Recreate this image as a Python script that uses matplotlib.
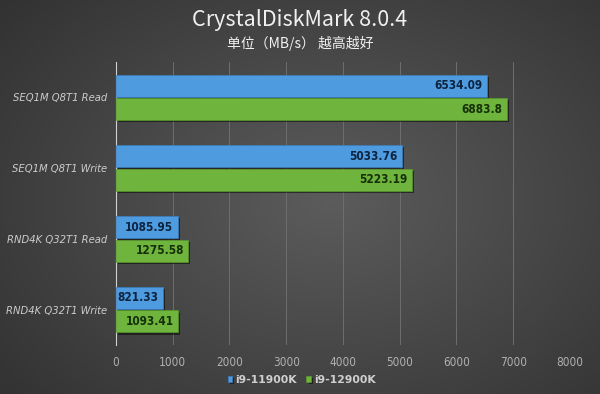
import numpy as np
import matplotlib
matplotlib.use("Agg")
import matplotlib.pyplot as plt
import matplotlib.patheffects as pe

categories = ["SEQ1M Q8T1 Read", "SEQ1M Q8T1 Write", "RND4K Q32T1 Read", "RND4K Q32T1 Write"]
series_names = ["i9-11900K", "i9-12900K"]
i9_11900k = [6534.09, 5033.76, 1085.95, 821.33]
i9_12900k = [6883.8, 5223.19, 1275.58, 1093.41]
xticks = [0, 1000, 2000, 3000, 4000, 5000, 6000, 7000, 8000]

plt.rcParams['font.family'] = ['Noto Sans CJK SC', 'DejaVu Sans']

fig = plt.figure(figsize=(6, 3.94), dpi=100)

# background radial gradient
bg = fig.add_axes([0, 0, 1, 1], zorder=0)
yy, xx = np.mgrid[0:394, 0:600]
r = np.sqrt(((xx - 330) / 420.0) ** 2 + ((yy - 200) / 300.0) ** 2)
val = np.clip(0.36 - 0.16 * r, 0.2, 0.4)
img = np.dstack([val, val, val])
bg.imshow(img, aspect='auto', extent=[0, 1, 0, 1])
bg.axis('off')

ax = fig.add_axes([0.1933, 0.1244, 0.7567, 0.7182], zorder=1)
ax.patch.set_alpha(0)

y = np.arange(len(categories))
off = 0.335
h = 0.31
shadow = [pe.SimplePatchShadow(offset=(1.5, -1.5), shadow_rgbFace='black', alpha=0.5), pe.Normal()]
b1 = ax.barh(y - off / 2, i9_11900k, height=h, color='#4f9be0', edgecolor='#3a7fc0', linewidth=0.5, zorder=3)
b2 = ax.barh(y + off / 2, i9_12900k, height=h, color='#6fb43c', edgecolor='#579a2a', linewidth=0.5, zorder=3)
for b in list(b1) + list(b2):
    b.set_path_effects(shadow)

cond = dict(family='DejaVu Sans', fontstretch='condensed')
lab_font = dict(fontsize=8.5, fontweight='semibold', **cond)
for yi, v in zip(y - off / 2, i9_11900k):
    ax.text(v - 80, yi, f"{v:g}", ha='right', va='center', color='#0d2440', zorder=4, **lab_font)
for yi, v in zip(y + off / 2, i9_12900k):
    ax.text(v - 80, yi, f"{v:g}", ha='right', va='center', color='#16300a', zorder=4, **lab_font)

ax.set_xlim(0, 8000)
ax.set_ylim(3.5, -0.5)
ax.set_xticks(xticks)
ax.set_xticklabels([str(t) for t in xticks], fontsize=8.5, color='#b0b0b0', **cond)
ax.set_yticks(y)
ax.set_yticklabels(categories, fontsize=8, color='#cccccc', style='italic', **cond)
ax.tick_params(axis='both', length=0)
ax.tick_params(axis='x', pad=8)
ax.tick_params(axis='y', pad=6.5)
ax.grid(axis='x', color='#6e6e6e', linewidth=0.7, zorder=0)
for s in ['top', 'right', 'bottom']:
    ax.spines[s].set_visible(False)
ax.spines['left'].set_color('#d0d0d0')
ax.spines['left'].set_linewidth(0.8)

fig.text(0.5, 0.948, "CrystalDiskMark 8.0.4", ha='center', va='center', fontsize=15.5,
         color='#f0f0f0', fontweight='medium')
fig.text(0.5, 0.89, "单位（MB/s） 越高越好", ha='center', va='center', fontsize=10, color='#f0f0f0')

leg = ax.legend([b1, b2], series_names, loc='center', bbox_to_anchor=(0.409, -0.124),
                ncol=2, frameon=False, handlelength=0.45, handleheight=0.45,
                handletextpad=0.25, columnspacing=0.9, labelcolor='#d0d0d0',
                prop=dict(size=7.8, weight='semibold', family='DejaVu Sans'))

fig.savefig("out.png", dpi=100)
